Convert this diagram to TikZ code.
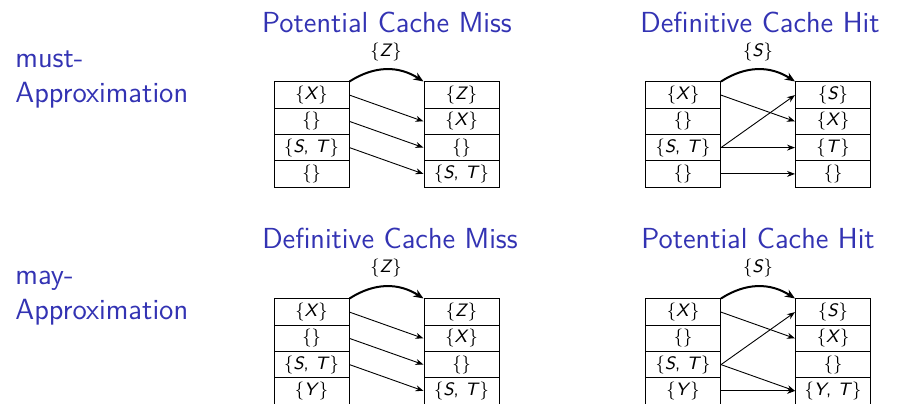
\documentclass[tikz,border=0pt]{standalone}
\usepackage{fontspec}
\usetikzlibrary{arrows.meta,calc}
\definecolor{struct}{RGB}{51,51,179}
\newcommand\iv[1]{\textit{#1}}
\begin{document}
\begin{tikzpicture}[x=0.5pt,y=-0.5pt,
  cell/.style={draw, line width=0.5pt, minimum width=37.5pt, minimum height=13.125pt, inner sep=0pt, font=\sffamily\fontsize{9}{10}\selectfont},
  ttl/.style={anchor=base, text=struct, font=\sffamily\fontsize{14.5}{16}\selectfont, inner sep=0pt},
  side/.style={anchor=base west, text=struct, font=\sffamily\fontsize{14.6}{16}\selectfont, inner sep=0pt},
  setl/.style={font=\sffamily\fontsize{9}{10}\selectfont, inner sep=0pt},
  mv/.style={-{Stealth[length=4pt,width=3pt]}, line width=0.45pt},
  ins/.style={-{Stealth[length=5pt,width=4pt]}, line width=1pt}
]
\useasboundingbox (0,0) rectangle (899,403);

% side labels
\node[side] (must1) at (15,67) {must-};
\node[side] (must2) at (15,102) {Approximation};
\node[side] (may1) at (15,284) {may-};
\node[side] (may2) at (15,319) {Approximation};

% titles
\node[ttl] (ta) at (387,32) {Potential Cache Miss};
\node[ttl] (tb) at (760,32) {Definitive Cache Hit};
\node[ttl] (tc) at (390,248) {Definitive Cache Miss};
\node[ttl] (td) at (758,248) {Potential Cache Hit};

% inserted sets
\node[setl] (sa) at (386,52) {\{\iv{Z}\}};
\node[setl] (sb) at (758,52) {\{\iv{S}\}};
\node[setl] (sc) at (386,268) {\{\iv{Z}\}};
\node[setl] (sd) at (758,268) {\{\iv{S}\}};

% diagram a (top left)
\node[cell] (aL1) at (311.5,95.1) {\{\iv{X}\}};
\node[cell] (aL2) at (311.5,121.4) {\{\}};
\node[cell] (aL3) at (311.5,147.6) {\{\iv{S}, \iv{T}\}};
\node[cell] (aL4) at (311.5,173.9) {\{\}};
\node[cell] (aR1) at (461.5,95.1) {\{\iv{Z}\}};
\node[cell] (aR2) at (461.5,121.4) {\{\iv{X}\}};
\node[cell] (aR3) at (461.5,147.6) {\{\}};
\node[cell] (aR4) at (461.5,173.9) {\{\iv{S}, \iv{T}\}};
\draw[ins] (aL1.north east) .. controls ($(aL1.north east)+(25,-16)$) and ($(aR1.north west)+(-25,-16)$) .. (aR1.north west);
\draw[mv] (aL1.east) -- (aR2.west);
\draw[mv] (aL2.east) -- (aR3.west);
\draw[mv] (aL3.east) -- (aR4.west);

% diagram b (top right)
\node[cell] (bL1) at (683,95.1) {\{\iv{X}\}};
\node[cell] (bL2) at (683,121.4) {\{\}};
\node[cell] (bL3) at (683,147.6) {\{\iv{S}, \iv{T}\}};
\node[cell] (bL4) at (683,173.9) {\{\}};
\node[cell] (bR1) at (833,95.1) {\{\iv{S}\}};
\node[cell] (bR2) at (833,121.4) {\{\iv{X}\}};
\node[cell] (bR3) at (833,147.6) {\{\iv{T}\}};
\node[cell] (bR4) at (833,173.9) {\{\}};
\draw[ins] (bL1.north east) .. controls ($(bL1.north east)+(25,-16)$) and ($(bR1.north west)+(-25,-16)$) .. (bR1.north west);
\draw[mv] (bL1.east) -- (bR2.west);
\draw[mv] (bL3.east) -- (bR1.west);
\draw[mv] (bL3.east) -- (bR3.west);
\draw[mv] (bL4.east) -- (bR4.west);

% diagram c (bottom left)
\node[cell] (cL1) at (311.5,312.1) {\{\iv{X}\}};
\node[cell] (cL2) at (311.5,338.4) {\{\}};
\node[cell] (cL3) at (311.5,364.6) {\{\iv{S}, \iv{T}\}};
\node[cell] (cL4) at (311.5,390.9) {\{\iv{Y}\}};
\node[cell] (cR1) at (461.5,312.1) {\{\iv{Z}\}};
\node[cell] (cR2) at (461.5,338.4) {\{\iv{X}\}};
\node[cell] (cR3) at (461.5,364.6) {\{\}};
\node[cell] (cR4) at (461.5,390.9) {\{\iv{S}, \iv{T}\}};
\draw[ins] (cL1.north east) .. controls ($(cL1.north east)+(25,-16)$) and ($(cR1.north west)+(-25,-16)$) .. (cR1.north west);
\draw[mv] (cL1.east) -- (cR2.west);
\draw[mv] (cL2.east) -- (cR3.west);
\draw[mv] (cL3.east) -- (cR4.west);

% diagram d (bottom right)
\node[cell] (dL1) at (683,312.1) {\{\iv{X}\}};
\node[cell] (dL2) at (683,338.4) {\{\}};
\node[cell] (dL3) at (683,364.6) {\{\iv{S}, \iv{T}\}};
\node[cell] (dL4) at (683,390.9) {\{\iv{Y}\}};
\node[cell] (dR1) at (833,312.1) {\{\iv{S}\}};
\node[cell] (dR2) at (833,338.4) {\{\iv{X}\}};
\node[cell] (dR3) at (833,364.6) {\{\}};
\node[cell] (dR4) at (833,390.9) {\{\iv{Y}, \iv{T}\}};
\draw[ins] (dL1.north east) .. controls ($(dL1.north east)+(25,-16)$) and ($(dR1.north west)+(-25,-16)$) .. (dR1.north west);
\draw[mv] (dL1.east) -- (dR2.west);
\draw[mv] (dL3.east) -- (dR1.west);
\draw[mv] (dL3.east) -- (dR4.west);
\draw[mv] (dL4.east) -- (dR4.west);
\end{tikzpicture}
\end{document}
